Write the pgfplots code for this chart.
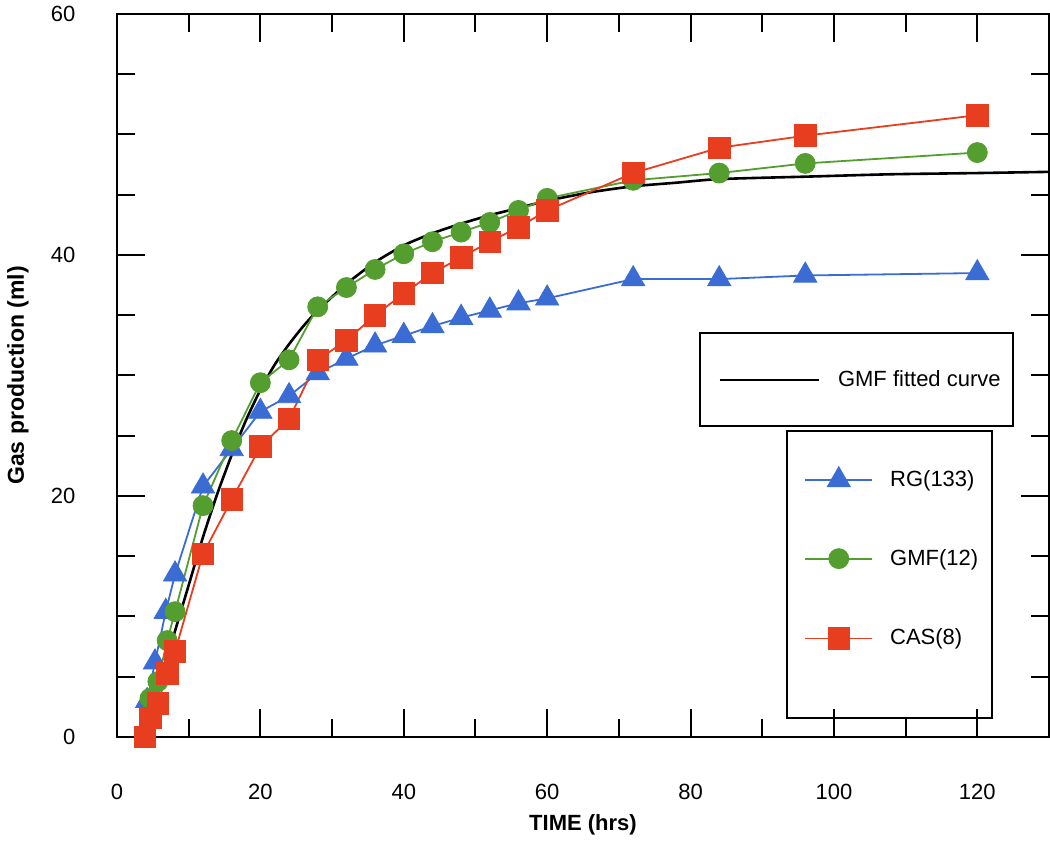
\documentclass[border=0pt]{standalone}
\usepackage{fontspec}
\setmainfont{Liberation Sans}
\usepackage{pgfplots}
\pgfplotsset{compat=1.18}

\definecolor{rgblue}{RGB}{58,108,212}
\definecolor{gmfgreen}{RGB}{84,158,48}
\definecolor{casred}{RGB}{230,62,30}

% cumulative gas production, ml
\pgfplotstableread{
t    v
4    0
5    2.2
6    4.3
7    6.4
8    8.6
10   12.6
12   16.6
14   20.2
16   23.4
18   26.3
20   28.8
22   30.9
24   32.6
26   34.1
28   35.4
32   37.6
36   39.4
40   40.8
44   41.8
48   42.6
52   43.3
56   43.9
60   44.5
66   45.2
72   45.7
78   46.0
84   46.3
96   46.5
108  46.7
120  46.8
130  46.9
}\fitted

\pgfplotstableread{
t    v
4.2  3.0
5.3  6.2
6.8  10.4
8.1  13.5
12   20.8
16   23.9
20   27.0
24   28.3
28   30.2
32   31.4
36   32.5
40   33.3
44   34.1
48   34.8
52   35.4
56   36.0
60   36.4
72   38.0
84   38.0
96   38.3
120  38.5
}\rg

\pgfplotstableread{
t    v
4.6  3.2
5.7  4.6
7.0  8.0
8.1  10.4
12   19.2
16   24.6
20   29.4
24   31.3
28   35.7
32   37.3
36   38.8
40   40.1
44   41.1
48   41.9
52   42.7
56   43.7
60   44.7
72   46.2
84   46.8
96   47.6
120  48.5
}\gmf

\pgfplotstableread{
t    v
3.9  0
4.7  1.6
5.7  2.8
7.0  5.3
8.1  7.1
12   15.2
16   19.7
20   24.1
24   26.4
28   31.3
32   32.9
36   35.0
40   36.8
44   38.5
48   39.8
52   41.1
56   42.3
60   43.7
72   46.8
84   48.9
96   49.9
120  51.6
}\cas

\pgfplotsset{
  frame/.style={
    scale only axis, width=466pt, height=361.5pt,
    xmin=0, xmax=130, ymin=0, ymax=60,
  },
}

\begin{document}
\begin{tikzpicture}
\path[use as bounding box] (-58.5pt,-54pt) rectangle (466.5pt,368.5pt);

% axes, ticks and the fitted curve
\begin{axis}[
  frame,
  axis line style={line width=1pt},
  tick style={line width=1pt, black},
  tick align=inside,
  major tick length=14pt, minor tick length=9pt,
  xtick={0,20,...,120}, minor xtick={10,30,...,110},
  ytick={0,20,40,60}, minor ytick={5,10,15,25,30,35,45,50,55},
  /pgf/number format/assume math mode=true,
  ticklabel style={font=\fontsize{11}{13}\selectfont},
  xticklabel style={yshift=-20pt},
  yticklabel style={xshift=-17.3pt},
  xlabel={TIME (hrs)}, ylabel={Gas production (ml)},
  every axis x label/.style={at={(axis description cs:0.5,-0.1217)}, anchor=center,
    font=\fontsize{11}{13}\selectfont\bfseries},
  every axis y label/.style={at={(axis description cs:-0.1062,0.5)}, rotate=90, anchor=center,
    font=\fontsize{11.5}{13}\selectfont\bfseries},
  legend image code/.code={\draw[#1] (0pt,0pt) -- (49.5pt,0pt);},
  legend style={draw=none, fill=none, inner sep=0pt, column sep=9pt,
    nodes={inner sep=0pt, font=\fontsize{11}{13}\selectfont},
    at={(axis description cs:0.6449,0.4938)}, anchor=west},
]
\draw[line width=1pt] (axis description cs:0.6255,0.4302) rectangle (axis description cs:0.9614,0.5588);
\addplot[black, line width=1.3pt, smooth, tension=0.4] table[x=t, y=v] {\fitted};
\addlegendentry{GMF fitted curve}
\end{axis}

% measured series
\begin{axis}[
  frame, hide axis, clip=false,
  legend image code/.code={\draw[mark repeat=2, mark phase=2, #1] plot coordinates {(0pt,0pt) (16.75pt,0pt) (33.5pt,0pt)};},
  legend style={draw=none, fill=none, inner sep=0pt, column sep=8.5pt, row sep=29.5pt,
    nodes={inner sep=0pt, font=\fontsize{11}{13}\selectfont},
    at={(axis description cs:0.7371,0.2476)}, anchor=west},
  legend cell align=left,
]
\draw[line width=1pt] (axis description cs:0.7189,0.0263) rectangle (axis description cs:0.9388,0.4232);
\addplot[rgblue, line width=0.9pt, mark=triangle*, mark size=6.7pt,
  mark options={fill=rgblue, draw=rgblue, line width=0.4pt}] table[x=t, y=v] {\rg};
\addlegendentry{RG(133)}
\addplot[gmfgreen, line width=0.9pt, mark=*, mark size=5pt,
  mark options={fill=gmfgreen, draw=gmfgreen, line width=0.4pt}] table[x=t, y=v] {\gmf};
\addlegendentry{GMF(12)}
\addplot[casred, line width=0.9pt, mark=square*, mark size=5.4pt,
  mark options={fill=casred, draw=casred, line width=0.4pt}] table[x=t, y=v] {\cas};
\addlegendentry{CAS(8)}
\end{axis}
\end{tikzpicture}
\end{document}
